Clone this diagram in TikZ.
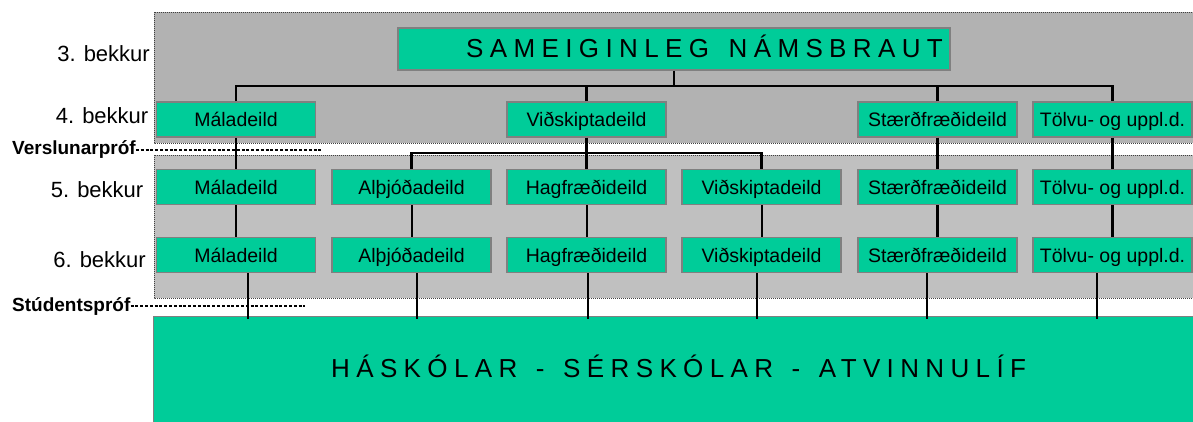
\documentclass[tikz,border=0pt]{standalone}
\usepackage{fontspec}
\setmainfont{Liberation Sans}
\definecolor{boxgreen}{HTML}{00CC99}
\definecolor{topgray}{HTML}{B2B2B2}
\definecolor{midgray}{HTML}{C0C0C0}
\definecolor{edgegray}{HTML}{808080}
\begin{document}
\begin{tikzpicture}[x=1pt,y=-1pt,
 dept/.style={draw=edgegray,line width=1.2pt,fill=boxgreen,minimum width=159pt,minimum height=35pt,inner sep=0pt,text height=17pt,text depth=3pt,font=\fontsize{19.5}{22}\selectfont},
 band/.style={draw=black!75,line width=0.6pt,dash pattern=on 1pt off 1pt},
 conn/.style={line width=2.6pt},
 thinconn/.style={line width=2pt},
 yearlabel/.style={anchor=base east,inner sep=0pt,font=\fontsize{22}{24}\selectfont},
 examlabel/.style={anchor=base west,inner sep=0pt,font=\fontsize{19}{22}\selectfont\bfseries},
 examline/.style={line width=2.5pt,dash pattern=on 3pt off 1.8pt},
 spaced/.style={anchor=base west,inner sep=0pt,font=\fontsize{26}{30}\selectfont\addfontfeature{LetterSpace=24.5}}
]
\useasboundingbox (0,0) rectangle (1193,421);
\fill[white] (0,0) rectangle (1193,421);
% bands
\path[band,fill=topgray] (154,12) rectangle (1200,143);
\path[band,fill=midgray] (154,155) rectangle (1200,298);
% bottom block
\node[draw=edgegray,line width=1.2pt,fill=boxgreen,anchor=north west,minimum width=1060pt,minimum height=115pt,inner sep=0pt] (hs) at (153,316) {};
\node[spaced] (hstext) at (331,377) {HÁSKÓLAR\hspace{5pt} -\hspace{5pt} SÉRSKÓLAR\hspace{5pt} -\hspace{5pt} ATVINNULÍF};
% title
\node[dept,minimum width=552pt,minimum height=42pt] (sn) at (674,49) {};
\node[spaced] (sntext) at (466,57) {SAMEIGINLEG\hspace{6pt} NÁMSBRAUT};
% year labels
\node[yearlabel] (y3) at (150,61.5) {3. bekkur};
\node[yearlabel] (y4) at (148.5,123.5) {4. bekkur};
\node[yearlabel] (y5) at (143.5,197) {5. bekkur};
\node[yearlabel] (y6) at (146,267) {6. bekkur};
% row 4
\node[dept] (m4) at (236,119.5) {Máladeild};
\node[dept] (v4) at (586.5,119.5) {Viðskiptadeild};
\node[dept] (s4) at (937.5,119.5) {Stærðfræðideild};
\node[dept] (t4) at (1112.5,119.5) {Tölvu- og uppl.d.};
% row 5
\node[dept] (m5) at (236,187) {Máladeild};
\node[dept] (a5) at (411.5,187) {Alþjóðadeild};
\node[dept] (h5) at (586.5,187) {Hagfræðideild};
\node[dept] (v5) at (761.5,187) {Viðskiptadeild};
\node[dept] (s5) at (937.5,187) {Stærðfræðideild};
\node[dept] (t5) at (1112.5,187) {Tölvu- og uppl.d.};
% row 6
\node[dept] (m6) at (236,255) {Máladeild};
\node[dept] (a6) at (411.5,255) {Alþjóðadeild};
\node[dept] (h6) at (586.5,255) {Hagfræðideild};
\node[dept] (v6) at (761.5,255) {Viðskiptadeild};
\node[dept] (s6) at (937.5,255) {Stærðfræðideild};
\node[dept] (t6) at (1112.5,255) {Tölvu- og uppl.d.};
% connectors top
\coordinate (bus1) at (674,86);
\draw[conn] (sn.south) -- (bus1);
\draw[conn] (m4.north) |- (t4.north |- bus1) -- (t4.north);
\draw[conn] (v4.north) -- (v4.north |- bus1);
\draw[conn] (s4.north) -- (s4.north |- bus1);
% row 4 -> 5
\coordinate (bus2) at (586.5,153);
\draw[conn] (m4.south) -- (m5.north);
\draw[conn] (v4.south) -- (bus2);
\draw[conn] (a5.north) |- (bus2) -| (v5.north);
\draw[conn] (h5.north) -- (h5.north |- bus2);
\draw[conn] (s4.south) -- (s5.north);
\draw[conn] (t4.south) -- (t5.north);
% row 5 -> 6
\draw[conn] (m5.south) -- (m6.north);
\draw[thinconn] (a5.south) -- (a6.north);
\draw[thinconn] (h5.south) -- (h6.north);
\draw[thinconn] (v5.south) -- (v6.north);
\draw[conn] (s5.south) -- (s6.north);
\draw[conn] (t5.south) -- (t6.north);
% row 6 -> bottom block
\foreach \n/\dx in {m6/12,a6/5.5,h6/1.5,v6/-4.5,s6/-10.5,t6/-15.5}{
  \draw[conn] ([xshift=\dx pt]\n.south) -- ([xshift=\dx pt,yshift=-2.5pt]\n.south |- hs.north);
}
% exam labels
\node[examlabel] (vp) at (12,154.5) {Verslunarpróf};
\coordinate (vpend) at (323,150);
\draw[examline] (vp.east |- vpend) -- (vpend);
\node[examlabel] (sp) at (12,311.5) {Stúdentspróf};
\coordinate (spend) at (305,306);
\draw[examline] (sp.east |- spend) -- (spend);
\end{tikzpicture}
\end{document}
